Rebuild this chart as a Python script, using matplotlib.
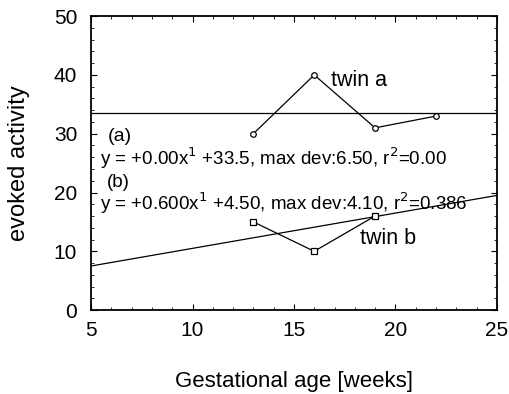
import matplotlib.pyplot as plt
import numpy as np
from matplotlib.ticker import MultipleLocator

# data
weeks_a = [13, 16, 19, 22]
twin_a = [30, 40, 31, 33]
weeks_b = [13, 16, 19]
twin_b = [15, 10, 16]

# fitted lines: y = slope * x + intercept
fit_a = (0.00, 33.5)
fit_b = (0.600, 4.50)
x_fit = np.array([5, 25])

plt.rcParams["font.family"] = ["Liberation Sans", "DejaVu Sans"]

fig = plt.figure(figsize=(5.09, 3.94), dpi=100)
ax = fig.add_axes([0.179, 0.213, 0.797, 0.746])

ax.plot(x_fit, fit_a[0] * x_fit + fit_a[1], color="black", lw=0.9)
ax.plot(x_fit, fit_b[0] * x_fit + fit_b[1], color="black", lw=0.9)

ax.plot(weeks_a, twin_a, "-o", color="black", lw=0.9,
        markersize=4, markerfacecolor="white", markeredgewidth=0.9)
ax.plot(weeks_b, twin_b, "-s", color="black", lw=0.9,
        markersize=4, markerfacecolor="white", markeredgewidth=0.9)

# labels inside the plot
ax.text(16.85, 39.1, "twin a", fontsize=15.5, va="center")
ax.text(18.25, 12.2, "twin b", fontsize=15.5, va="center")
ax.text(5.8, 29.6, "(a)", fontsize=14, va="center")
ax.text(5.42, 25.9, r"y = +0.00x$^1$ +33.5, max dev:6.50, r$^2$=0.00",
        fontsize=13.5, va="center")
ax.text(5.8, 21.7, "(b)", fontsize=13.5, va="center")
ax.text(5.42, 18.2, r"y = +0.600x$^1$ +4.50, max dev:4.10, r$^2$=0.386",
        fontsize=13.5, va="center")

ax.set_xlim(5, 25)
ax.set_ylim(0, 50)
ax.xaxis.set_major_locator(MultipleLocator(5))
ax.xaxis.set_minor_locator(MultipleLocator(1))
ax.yaxis.set_major_locator(MultipleLocator(10))
ax.yaxis.set_minor_locator(MultipleLocator(2))
ax.tick_params(which="both", direction="in", top=True, right=True,
               labelsize=15)
ax.tick_params(axis="y", pad=10)
ax.tick_params(axis="x", pad=8)
ax.tick_params(which="major", length=4)
ax.tick_params(which="minor", length=2)
for s in ax.spines.values():
    s.set_linewidth(1.3)

ax.set_xlabel("Gestational age [weeks]", fontsize=16, labelpad=22)
ax.set_ylabel("evoked activity", fontsize=17, labelpad=17)

fig.savefig("out.png", dpi=100)
